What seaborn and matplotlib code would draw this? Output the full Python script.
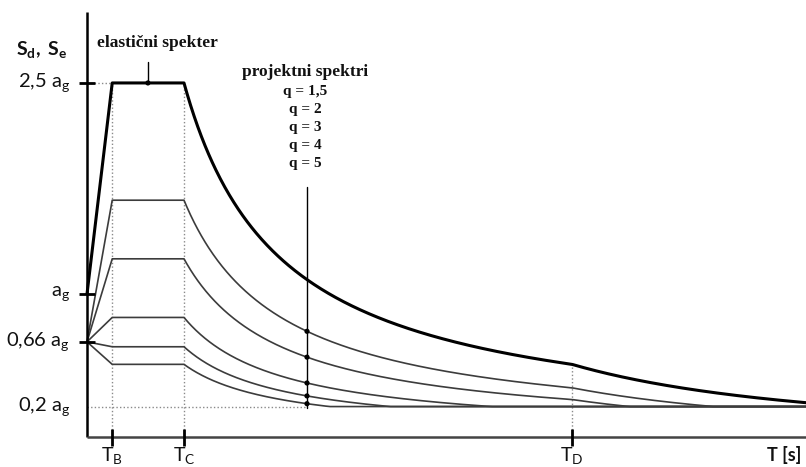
import numpy as np
import pandas as pd
import matplotlib
matplotlib.use("Agg")
import matplotlib.pyplot as plt
import seaborn as sns

# ---------------- data ----------------
y_tick_values = [2.5, 1.0, 0.66, 0.2]
y_tick_labels = [r"2,5 $\mathrm{a}_{\mathrm{g}}$", r"$\mathrm{a}_{\mathrm{g}}$",
                 r"0,66 $\mathrm{a}_{\mathrm{g}}$", r"0,2 $\mathrm{a}_{\mathrm{g}}$"]
y_ticked = [True, True, True, False]
period_names = ["B", "C", "D"]
period_values = [0.13, 0.5, 2.5]          # T_B, T_C, T_D  [s]
q_values = [1.5, 2, 3, 4, 5]
q_labels = ["q = 1,5", "q = 2", "q = 3", "q = 4", "q = 5"]
plateau_factor = 2.5
elastic_start = 1.0
design_start = 0.66
beta = 0.2
T_end = 3.71
T_design_marker = 1.134
T_elastic_marker = 0.314

TB, TC, TD = period_values


def elastic(T):
    return np.where(T < TB, elastic_start + (plateau_factor - elastic_start) * T / TB,
           np.where(T < TC, plateau_factor,
           np.where(T < TD, plateau_factor * TC / np.maximum(T, 1e-9),
                    plateau_factor * TC * TD / np.maximum(T, 1e-9) ** 2)))


def design(T, q):
    p = plateau_factor / q
    s = np.where(T < TB, design_start + (p - design_start) * T / TB,
        np.where(T < TC, p,
        np.where(T < TD, np.maximum(p * TC / np.maximum(T, 1e-9), beta),
                 np.maximum(p * TC * TD / np.maximum(T, 1e-9) ** 2, beta))))
    return s


Tgrid = np.unique(np.concatenate([np.linspace(0, T_end, 800), period_values]))
df_el = pd.DataFrame({"T": Tgrid, "S": elastic(Tgrid)})
df_d = pd.concat([pd.DataFrame({"T": Tgrid, "S": design(Tgrid, q), "q": str(q)})
                  for q in q_values], ignore_index=True)
df_m = pd.DataFrame({"T": [T_design_marker] * len(q_values),
                     "S": [float(design(np.array([T_design_marker]), q)[0]) for q in q_values]})

# ---------------- figure ----------------
sns.set_theme(style="white")
plt.rcParams["font.family"] = ["Lato", "DejaVu Sans"]
plt.rcParams["mathtext.fontset"] = "custom"
plt.rcParams["mathtext.rm"] = "Lato"
plt.rcParams["mathtext.it"] = "Lato:italic"
plt.rcParams["mathtext.bf"] = "Lato:bold"

fig = plt.figure(figsize=(8.06, 4.67), dpi=100)
ax = fig.add_axes([0, 0, 1, 1])
ax.set_axis_off()

# pixel -> data helpers (layout only)
PX0, PXS = 87.0, 194.0
PY1, PYS = 294.0, 140.7
def X(px):
    return (px - PX0) / PXS
def Y(py):
    return 1 - (py - PY1) / PYS

ax.set_xlim(X(0), X(806))
ax.set_ylim(Y(467), Y(0))

dark = "#3c3c3c"
dot_kw = dict(color="#8a8a8a", lw=1.0, ls=(0, (1, 1.6)), zorder=1)

# dotted guides
ax.plot([0, TB], [plateau_factor, plateau_factor], **dot_kw)
y_axis_level = Y(437)
for T in period_values:
    ax.plot([T, T], [y_axis_level, float(elastic(np.array([T]))[0])], **dot_kw)
ax.plot([0, T_design_marker], [beta, beta], **dot_kw)

# design spectra
sns.lineplot(data=df_d, x="T", y="S", units="q", estimator=None, sort=False,
             color=dark, lw=1.2, ax=ax, legend=False, zorder=3)
# elastic spectrum
sns.lineplot(data=df_el, x="T", y="S", estimator=None, sort=False,
             color="black", lw=2.2, ax=ax, legend=False, zorder=4)

# axes
ax.plot([0, 0], [y_axis_level, Y(12)], color="black", lw=1.8, zorder=5,
        solid_capstyle="butt")
ax.plot([0, T_end], [y_axis_level, y_axis_level], color="#444444", lw=1.8, zorder=5,
        solid_capstyle="butt")

# y ticks and labels
for v, lab, tk in zip(y_tick_values, y_tick_labels, y_ticked):
    if tk:
        ax.plot([X(79), X(95)], [v, v], color="black", lw=2.0, zorder=6,
                solid_capstyle="butt")
    ax.text(X(70), v, lab, ha="right", va="center", fontsize=14.5, color="#111111")

# x ticks and labels
for name, T in zip(period_names, period_values):
    ax.plot([T, T], [Y(429), Y(446)], color="black", lw=2.0, zorder=6,
            solid_capstyle="butt")
    ax.text(T, Y(455), r"$\mathrm{T}_{\mathrm{%s}}$" % name, ha="center", va="center",
            fontsize=14, color="#111111")

ax.text(X(42), Y(50), r"$\mathbf{S}_{\mathbf{d}}\mathbf{,\ S}_{\mathbf{e}}$",
        ha="center", va="center", fontsize=14, color="#111111")
ax.text(X(784), Y(455), "T [s]", ha="center", va="center", fontsize=13,
        fontweight="bold", color="#111111")

# elastic annotation
ax.plot([T_elastic_marker, T_elastic_marker], [Y(62), plateau_factor], color="black",
        lw=1.0, zorder=6)
sns.scatterplot(x=[T_elastic_marker], y=[plateau_factor], color="black", s=14,
                ax=ax, zorder=7, edgecolor="none")
ax.text(X(157), Y(43), "elastični spekter", ha="center", va="center", fontsize=12.5,
        fontweight="bold", family="Liberation Serif", color="#111111")

# design annotation
ax.plot([T_design_marker, T_design_marker], [Y(187), beta - 0.01], color="black",
        lw=1.0, zorder=6)
sns.scatterplot(data=df_m, x="T", y="S", color="black", s=14, ax=ax, zorder=7,
                edgecolor="none")
ax.text(X(305), Y(72), "projektni spektri", ha="center", va="center", fontsize=12.5,
        fontweight="bold", family="Liberation Serif", color="#111111")
for i, lab in enumerate(q_labels):
    ax.text(X(305), Y(92 + 18 * i), lab, ha="center", va="center", fontsize=11,
            fontweight="bold", family="Liberation Serif", color="#111111")

fig.savefig("out.png", dpi=100)
